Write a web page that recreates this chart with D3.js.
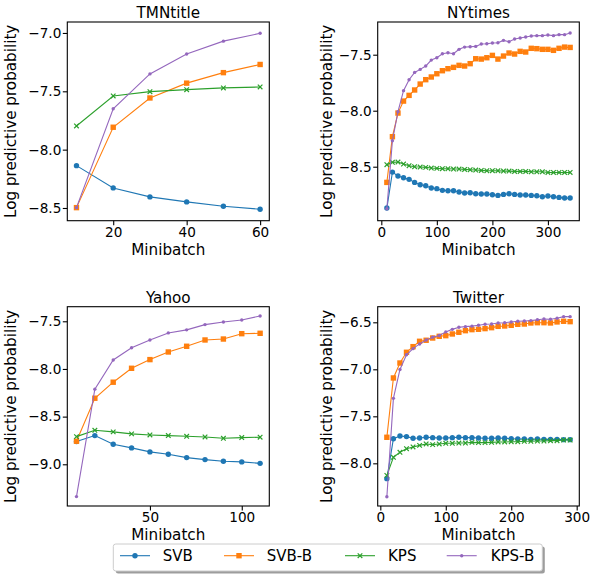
<!DOCTYPE html>
<html><head><meta charset="utf-8">
<script src="https://cdn.jsdelivr.net/npm/d3@7"></script>
<style>body{margin:0;background:#fff}svg{display:block}text{font-family:"DejaVu Sans",sans-serif;fill:#000}</style>
</head><body>
<script>
const seriesNames = ["SVB", "SVB-B", "KPS", "KPS-B"];
const seriesColors = ["#1f77b4", "#ff7f0e", "#2ca02c", "#9467bd"];
const panelTitles = ["TMNtitle", "NYtimes", "Yahoo", "Twitter"];

// TMNtitle
const tmnX = [10, 20, 30, 40, 50, 60];
const tmnSVB  = [-8.137, -8.328, -8.405, -8.448, -8.485, -8.511];
const tmnSVBB = [-8.497, -7.808, -7.557, -7.43, -7.34, -7.27];
const tmnKPS  = [-7.797, -7.54, -7.503, -7.486, -7.471, -7.463];
const tmnKPSB = [-8.497, -7.65, -7.351, -7.18, -7.07, -7.003];
const tmnXTicks = [20, 40, 60];
const tmnYTicks = [-7.0, -7.5, -8.0, -8.5];

// NYtimes
const nyX = [10,20,30,40,50,60,70,80,90,100,110,120,130,140,150,160,170,180,190,200,210,220,230,240,250,260,270,280,290,300,310,320,330,340];
const nySVB  = [-8.869,-8.548,-8.583,-8.598,-8.613,-8.64,-8.661,-8.67,-8.69,-8.696,-8.711,-8.714,-8.714,-8.726,-8.735,-8.732,-8.741,-8.744,-8.744,-8.75,-8.756,-8.747,-8.741,-8.747,-8.753,-8.753,-8.756,-8.759,-8.768,-8.762,-8.768,-8.774,-8.78,-8.78];
const nySVBB = [-8.64,-8.232,-8.021,-7.914,-7.863,-7.815,-7.762,-7.723,-7.699,-7.67,-7.643,-7.625,-7.613,-7.595,-7.601,-7.58,-7.536,-7.539,-7.527,-7.506,-7.539,-7.512,-7.485,-7.494,-7.47,-7.476,-7.443,-7.446,-7.452,-7.452,-7.461,-7.443,-7.432,-7.435];
const nyKPS  = [-8.482,-8.461,-8.458,-8.476,-8.491,-8.5,-8.503,-8.506,-8.512,-8.515,-8.518,-8.518,-8.521,-8.521,-8.524,-8.527,-8.53,-8.533,-8.536,-8.536,-8.536,-8.539,-8.539,-8.542,-8.542,-8.542,-8.545,-8.545,-8.545,-8.551,-8.551,-8.551,-8.551,-8.551];
const nyKPSB = [-8.875,-8.268,-8.009,-7.821,-7.723,-7.658,-7.631,-7.601,-7.548,-7.527,-7.491,-7.482,-7.491,-7.452,-7.432,-7.429,-7.426,-7.405,-7.402,-7.396,-7.393,-7.372,-7.384,-7.36,-7.351,-7.342,-7.333,-7.33,-7.33,-7.324,-7.33,-7.321,-7.321,-7.306];
const nyXTicks = [0, 100, 200, 300];
const nyYTicks = [-7.5, -8.0, -8.5];

// Yahoo
const yaX = [10,20,30,40,50,60,70,80,90,100,110];
const yaSVB  = [-8.762,-8.699,-8.79,-8.828,-8.87,-8.895,-8.93,-8.951,-8.968,-8.975,-8.99];
const yaSVBB = [-8.758,-8.307,-8.139,-7.993,-7.902,-7.822,-7.762,-7.696,-7.686,-7.63,-7.626];
const yaKPS  = [-8.71,-8.643,-8.66,-8.681,-8.692,-8.699,-8.706,-8.713,-8.727,-8.72,-8.716];
const yaKPSB = [-9.339,-8.212,-7.906,-7.777,-7.696,-7.622,-7.59,-7.535,-7.507,-7.486,-7.444];
const yaXTicks = [50, 100];
const yaYTicks = [-7.5, -8.0, -8.5, -9.0];

// Twitter
const twX = [10,20,30,40,50,60,70,80,90,100,110,120,130,140,150,160,170,180,190,200,210,220,230,240,250,260,270,280,290];
const twSVB  = [-8.163,-7.738,-7.709,-7.716,-7.734,-7.73,-7.723,-7.727,-7.73,-7.73,-7.727,-7.723,-7.727,-7.727,-7.73,-7.734,-7.734,-7.73,-7.734,-7.738,-7.741,-7.741,-7.745,-7.741,-7.745,-7.745,-7.745,-7.748,-7.748];
const twSVBB = [-7.723,-7.092,-6.933,-6.819,-6.759,-6.702,-6.691,-6.667,-6.649,-6.642,-6.624,-6.606,-6.589,-6.578,-6.574,-6.567,-6.557,-6.543,-6.539,-6.532,-6.521,-6.518,-6.507,-6.504,-6.504,-6.507,-6.496,-6.489,-6.493];
const twKPS  = [-8.128,-7.936,-7.883,-7.844,-7.826,-7.809,-7.794,-7.801,-7.794,-7.787,-7.787,-7.784,-7.784,-7.777,-7.78,-7.78,-7.777,-7.773,-7.773,-7.77,-7.77,-7.766,-7.766,-7.763,-7.763,-7.759,-7.759,-7.752,-7.752];
const twKPSB = [-8.355,-7.309,-7.002,-6.845,-6.78,-6.73,-6.688,-6.658,-6.64,-6.602,-6.575,-6.552,-6.546,-6.541,-6.532,-6.521,-6.518,-6.507,-6.504,-6.496,-6.489,-6.486,-6.482,-6.472,-6.465,-6.468,-6.457,-6.44,-6.44];
const twXTicks = [0, 100, 200, 300];
const twYTicks = [-6.5, -7.0, -7.5, -8.0];

const panels = [
  {title: panelTitles[0], x: tmnX, ys: [tmnSVB, tmnSVBB, tmnKPS, tmnKPSB], xt: tmnXTicks, yt: tmnYTicks,
   box: [67.3, 22, 269.3, 220.7], xd: [7.5, 62.5], yd: [-8.609, -6.906], col: 0},
  {title: panelTitles[1], x: nyX, ys: [nySVB, nySVBB, nyKPS, nyKPSB], xt: nyXTicks, yt: nyYTicks,
   box: [377.7, 22, 579.3, 220.7], xd: [-6.5, 356.5], yd: [-8.982, -7.208], col: 1},
  {title: panelTitles[2], x: yaX, ys: [yaSVB, yaSVBB, yaKPS, yaKPSB], xt: yaXTicks, yt: yaYTicks,
   box: [67.3, 306.7, 269.3, 506], xd: [5, 115], yd: [-9.4375, -7.347], col: 0},
  {title: panelTitles[3], x: twX, ys: [twSVB, twSVBB, twKPS, twKPSB], xt: twXTicks, yt: twYTicks,
   box: [377.7, 306.7, 579.3, 506], xd: [-4, 304], yd: [-8.454, -6.334], col: 1}
];

const svg = d3.select("body").append("svg").attr("width", 592).attr("height", 574);

function drawMarker(g, type, color, cx, cy) {
  if (type === 0) g.append("circle").attr("cx", cx).attr("cy", cy).attr("r", 2.7).attr("fill", color);
  else if (type === 1) g.append("rect").attr("x", cx - 2.7).attr("y", cy - 2.7).attr("width", 5.4).attr("height", 5.4).attr("fill", color);
  else if (type === 2) g.append("path").attr("d", `M${cx-2.3},${cy-2.3}L${cx+2.3},${cy+2.3}M${cx-2.3},${cy+2.3}L${cx+2.3},${cy-2.3}`).attr("stroke", color).attr("stroke-width", 1.2).attr("fill", "none");
  else g.append("circle").attr("cx", cx).attr("cy", cy).attr("r", 1.7).attr("fill", color);
}

const fmtY = d3.format(".1f");
panels.forEach(p => {
  const [l, t, r, b] = p.box;
  const xs = d3.scaleLinear().domain(p.xd).range([l, r]);
  const ys = d3.scaleLinear().domain(p.yd).range([b, t]);
  const g = svg.append("g");

  p.ys.forEach((vals, si) => {
    const pts = p.x.map((xv, i) => [xs(xv), ys(vals[i])]);
    g.append("path").attr("d", d3.line()(pts)).attr("fill", "none")
      .attr("stroke", seriesColors[si]).attr("stroke-width", 1.1);
    const mg = g.append("g");
    pts.forEach(pt => drawMarker(mg, si, seriesColors[si], pt[0], pt[1]));
  });

  g.append("rect").attr("x", l).attr("y", t).attr("width", r - l).attr("height", b - t)
    .attr("fill", "none").attr("stroke", "#000").attr("stroke-width", 1.1);

  const xa = g.append("g").attr("transform", `translate(0,${b})`)
    .call(d3.axisBottom(xs).tickValues(p.xt).tickSize(4.5).tickPadding(2.2).tickFormat(d3.format("d")));
  xa.select(".domain").remove();
  xa.selectAll("line").attr("stroke", "#000").attr("stroke-width", 1.1);
  xa.selectAll("text").attr("font-size", "13.6px").attr("font-family", "DejaVu Sans").attr("fill", "#000");

  const ya = g.append("g").attr("transform", `translate(${l},0)`)
    .call(d3.axisLeft(ys).tickValues(p.yt).tickSize(4.5).tickPadding(1.5).tickFormat(fmtY));
  ya.select(".domain").remove();
  ya.selectAll("line").attr("stroke", "#000").attr("stroke-width", 1.1);
  ya.selectAll("text").attr("font-size", "13.6px").attr("font-family", "DejaVu Sans").attr("fill", "#000");

  g.append("text").attr("x", (l + r) / 2).attr("y", t - 3.8).attr("text-anchor", "middle")
    .attr("font-size", "15.2px").text(p.title);
  g.append("text").attr("x", (l + r) / 2).attr("y", b + 34).attr("text-anchor", "middle")
    .attr("font-size", "15.2px").text("Minibatch");
  const lx = p.col === 0 ? 16 : 332;
  g.append("text").attr("transform", `translate(${lx},${(t + b) / 2}) rotate(-90)`).attr("text-anchor", "middle")
    .attr("font-size", "15.2px").text("Log predictive probability");
});

// Legend
const lg = svg.append("g");
lg.append("rect").attr("x", 115.8).attr("y", 546.5).attr("width", 429).attr("height", 27).attr("rx", 2.5)
  .attr("fill", "#4d4d4d").attr("opacity", 0.55);
lg.append("rect").attr("x", 113.3).attr("y", 544).attr("width", 429).attr("height", 27).attr("rx", 2.5)
  .attr("fill", "#fff").attr("stroke", "#cccccc").attr("stroke-width", 1);
const legLineX = [120, 224, 345, 446.7];
const legTextX = [162.7, 266.7, 388, 490.7];
seriesNames.forEach((n, i) => {
  lg.append("line").attr("x1", legLineX[i]).attr("x2", legLineX[i] + 30).attr("y1", 555.7).attr("y2", 555.7)
    .attr("stroke", seriesColors[i]).attr("stroke-width", 1.1);
  drawMarker(lg, i, seriesColors[i], legLineX[i] + 15, 555.7);
  lg.append("text").attr("x", legTextX[i]).attr("y", 561.2).attr("font-size", "15px").text(n);
});
</script>
</body></html>
